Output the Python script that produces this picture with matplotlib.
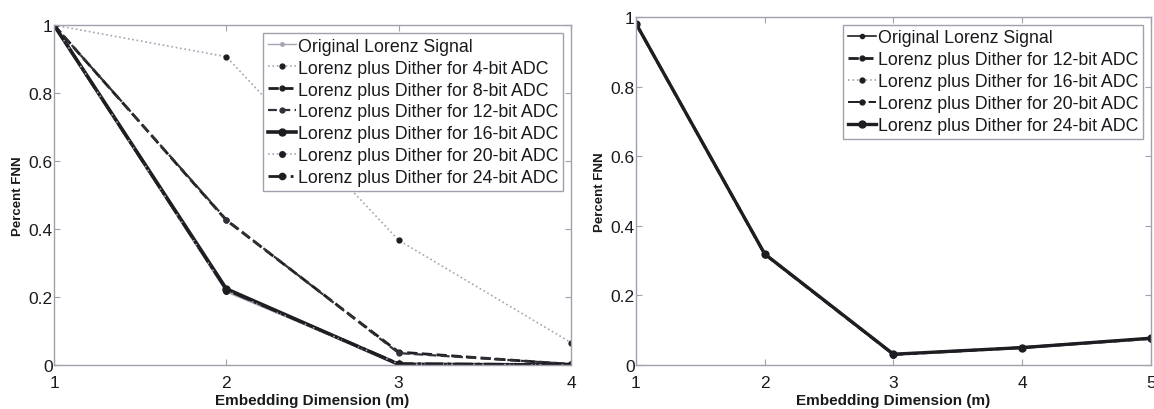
import matplotlib.pyplot as plt

plt.rcParams['font.family'] = ['Liberation Sans', 'DejaVu Sans']

# left panel data
dims_left = [1, 2, 3, 4]
original_left = [1.0, 0.215, 0.003, 0.0]
bit4_left = [1.0, 0.907, 0.367, 0.066]
bit8_left = [1.0, 0.426, 0.038, 0.002]
bit12_left = [1.0, 0.428, 0.035, 0.003]
bit16_left = [1.0, 0.224, 0.002, 0.0]
bit20_left = [1.0, 0.218, 0.003, 0.0]
bit24_left = [1.0, 0.221, 0.004, 0.001]

# right panel data
dims_right = [1, 2, 3, 4, 5]
original_right = [0.981, 0.318, 0.030, 0.050, 0.076]
bit12_right = [0.981, 0.318, 0.030, 0.050, 0.076]
bit16_right = [0.980, 0.317, 0.029, 0.049, 0.075]
bit20_right = [0.981, 0.318, 0.030, 0.050, 0.076]
bit24_right = [0.981, 0.319, 0.031, 0.050, 0.077]

ytick_vals = [0, 0.2, 0.4, 0.6, 0.8, 1]
ytick_labels = ["0", "0.2", "0.4", "0.6", "0.8", "1"]

DARK = "#1e1e22"
LIGHT = "#a4a4b4"
FRAME = "#a0a0ae"

fig = plt.figure(figsize=(11.54, 4.10), dpi=100)
ax1 = fig.add_axes([0.0468, 0.1073, 0.448, 0.829])
ax2 = fig.add_axes([0.5511, 0.1073, 0.4463, 0.849])

ax1.plot(dims_left, original_left, color=LIGHT, lw=1.0, marker='.', ms=5,
         label="Original Lorenz Signal")
ax1.plot(dims_left, bit4_left, color=LIGHT, lw=1.2, ls=':', marker='.', ms=7,
         mfc=DARK, mec=DARK, label="Lorenz plus Dither for 4-bit ADC")
ax1.plot(dims_left, bit8_left, color=DARK, lw=2.0, ls='--', marker='.', ms=7,
         label="Lorenz plus Dither for 8-bit ADC")
ax1.plot(dims_left, bit12_left, color="#303036", lw=1.6, ls=(0, (4, 2)), marker='.', ms=7,
         label="Lorenz plus Dither for 12-bit ADC")
ax1.plot(dims_left, bit16_left, color=DARK, lw=2.6, ls='-', marker='.', ms=10,
         label="Lorenz plus Dither for 16-bit ADC")
ax1.plot(dims_left, bit20_left, color=LIGHT, lw=1.2, ls=':', marker='.', ms=8,
         mfc=DARK, mec=DARK, label="Lorenz plus Dither for 20-bit ADC")
ax1.plot(dims_left, bit24_left, color=DARK, lw=2.0, ls='-.', marker='.', ms=9,
         label="Lorenz plus Dither for 24-bit ADC")

ax2.plot(dims_right, original_right, color=DARK, lw=1.2, marker='.', ms=6,
         label="Original Lorenz Signal")
ax2.plot(dims_right, bit12_right, color=DARK, lw=2.0, ls='--', marker='.', ms=7,
         label="Lorenz plus Dither for 12-bit ADC")
ax2.plot(dims_right, bit16_right, color=LIGHT, lw=1.2, ls=':', marker='.', ms=7,
         mfc=DARK, mec=DARK, label="Lorenz plus Dither for 16-bit ADC")
ax2.plot(dims_right, bit20_right, color=DARK, lw=1.4, ls='-.', marker='.', ms=7,
         label="Lorenz plus Dither for 20-bit ADC")
ax2.plot(dims_right, bit24_right, color=DARK, lw=2.4, ls='-', marker='.', ms=10,
         label="Lorenz plus Dither for 24-bit ADC")

for ax, dims in [(ax1, dims_left), (ax2, dims_right)]:
    ax.set_xlim(dims[0], dims[-1])
    ax.set_ylim(0, 1)
    ax.set_xticks(dims)
    ax.set_xticklabels([str(d) for d in dims])
    ax.set_yticks(ytick_vals)
    ax.set_yticklabels(ytick_labels)
    ax.tick_params(direction='in', top=True, right=True, length=4,
                   color=FRAME, labelsize=12.5, labelcolor="#1a1a1e")
    ax.tick_params(axis='x', pad=7)
    ax.tick_params(axis='y', pad=1)
    for s in ax.spines.values():
        s.set_color(FRAME)
        s.set_linewidth(1.0)
    ax.set_xlabel("Embedding Dimension (m)", fontsize=11, fontweight='bold',
                  color="#1a1a1e", labelpad=2)
    ax.set_ylabel("Percent FNN", fontsize=9.5, fontweight='bold', color="#1a1a1e")
    ax.yaxis.set_label_coords(-0.058, 0.5)
    leg = ax.legend(loc='upper right', fontsize=12.8, handlelength=1.6,
                    handletextpad=0.1, labelspacing=0.28, borderpad=0.25,
                    borderaxespad=0.45, fancybox=False, framealpha=1)
    leg.get_frame().set_edgecolor(FRAME)
    leg.get_frame().set_linewidth(1.0)
    for t in leg.get_texts():
        t.set_color("#1a1a1e")

fig.savefig("out.png", dpi=100)
